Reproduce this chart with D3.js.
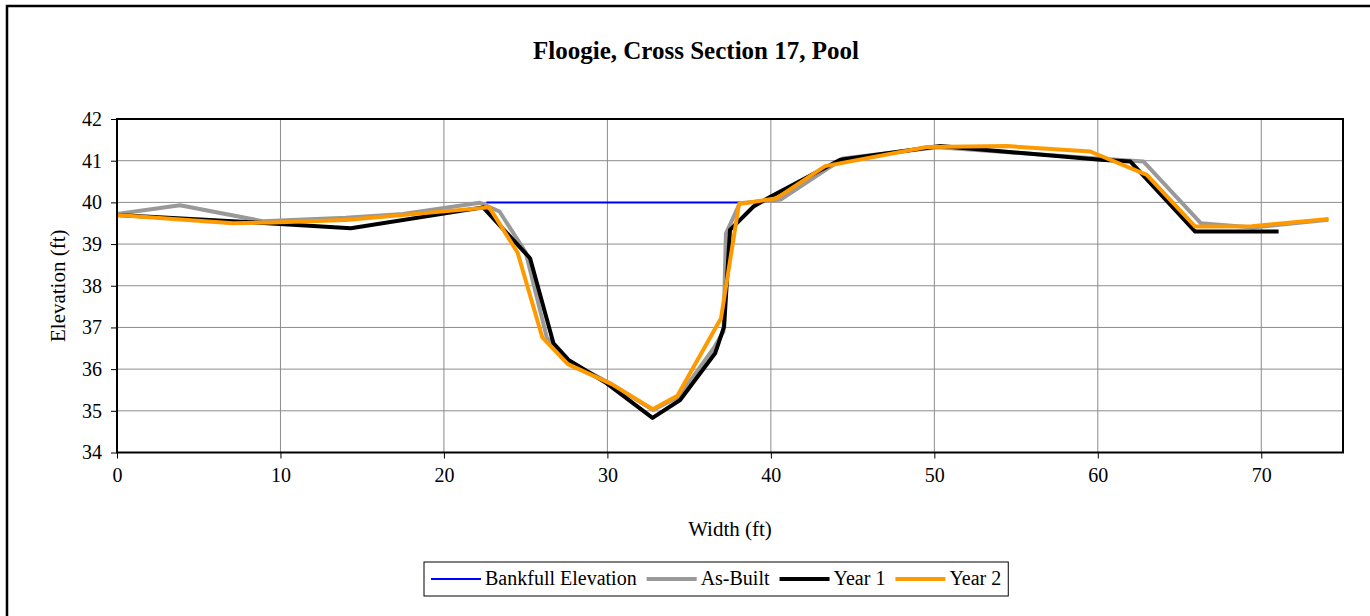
<!DOCTYPE html>
<html>
<head>
<meta charset="utf-8">
<script src="https://cdn.jsdelivr.net/npm/d3@7"></script>
<style>
html,body{margin:0;padding:0;background:#fff;}
svg{display:block;}
text{font-family:"Liberation Serif","Times New Roman",serif;fill:#000;}
</style>
</head>
<body>
<svg id="chart" width="1370" height="616"></svg>
<script>
// ---- data ----
const xTicks = [0, 10, 20, 30, 40, 50, 60, 70];
const yTicks = [34, 35, 36, 37, 38, 39, 40, 41, 42];
const seriesNames = ["Bankfull Elevation", "As-Built", "Year 1", "Year 2"];

const bankfullX = [22.6, 38.1];
const bankfullY = [40, 40];

const asBuiltX = [0, 3.85, 8.9, 14, 17.5, 22.2, 23.4, 25.0, 26.3, 27.6, 30.2, 32.8, 34.4, 36.5, 37.1, 37.25, 38.1, 40.6, 44.4, 50.2, 60, 62.8, 66.3, 69.5, 74.1];
const asBuiltY = [39.72, 39.93, 39.55, 39.63, 39.72, 39.99, 39.78, 38.8, 36.75, 36.2, 35.65, 35.02, 35.35, 36.5, 36.9, 39.25, 39.98, 40.07, 41.05, 41.32, 41.05, 40.98, 39.5, 39.4, 39.58];

const year1X = [0, 9.2, 14.3, 22.4, 25.27, 26.7, 27.62, 29.96, 32.76, 34.45, 36.59, 37.14, 37.5, 38.94, 40, 44.24, 50.36, 60.15, 62, 65.96, 71.06];
const year1Y = [39.70, 39.50, 39.38, 39.88, 38.66, 36.62, 36.22, 35.66, 34.83, 35.26, 36.38, 37.02, 39.34, 39.9, 40.14, 41.02, 41.35, 41.02, 40.98, 39.3, 39.3];

const year2X = [0, 7.1, 9.5, 14, 22.78, 24.51, 26.02, 27.58, 30.26, 32.77, 34.28, 36.95, 38.05, 40.36, 43.32, 49.54, 54.44, 59.54, 63.0, 65.96, 69.43, 74.12];
const year2Y = [39.70, 39.50, 39.52, 39.58, 39.88, 38.79, 36.76, 36.12, 35.64, 35.04, 35.36, 37.22, 39.96, 40.10, 40.87, 41.33, 41.35, 41.22, 40.66, 39.42, 39.43, 39.60];

// ---- layout ----
const svg = d3.select("#chart");
const L = 117, R = 1343, T = 119, B = 452.5;

const x = d3.scaleLinear().domain([0, 75]).range([L, R]);
const y = d3.scaleLinear().domain([34, 42]).range([B, T]);

// outer frame
svg.append("rect").attr("x", 7).attr("y", 6).attr("width", 1400).attr("height", 700)
  .attr("fill", "none").attr("stroke", "#000").attr("stroke-width", 2.5);

// title
svg.append("text").attr("x", 696).attr("y", 59).attr("text-anchor", "middle")
  .style("font-size", "25px").style("font-weight", "bold")
  .text("Floogie, Cross Section 17, Pool");

// gridlines
const grid = svg.append("g");
grid.selectAll("line.h").data(yTicks).join("line")
  .attr("x1", L).attr("x2", R).attr("y1", d => y(d)).attr("y2", d => y(d))
  .attr("stroke", "#8c8c8c").attr("stroke-width", 1);
grid.selectAll("line.v").data(xTicks).join("line")
  .attr("y1", T).attr("y2", B).attr("x1", d => x(d)).attr("x2", d => x(d))
  .attr("stroke", "#8c8c8c").attr("stroke-width", 1);

// axes
const xAxis = d3.axisBottom(x).tickValues(xTicks).tickSize(6).tickPadding(9).tickFormat(d3.format("d"));
const yAxis = d3.axisLeft(y).tickValues(yTicks).tickSize(6).tickPadding(9).tickFormat(d3.format("d"));
const gx = svg.append("g").attr("transform", `translate(0,${B})`).call(xAxis);
const gy = svg.append("g").attr("transform", `translate(${L},0)`).call(yAxis);
[gx, gy].forEach(g => {
  g.select(".domain").remove();
  g.selectAll(".tick line").attr("stroke", "#000").attr("stroke-width", 1);
  g.selectAll(".tick text").style("font-size", "20px").style("font-family", "'Liberation Serif', serif").attr("fill", "#000");
});

// axis titles
svg.append("text").attr("x", (L + R) / 2).attr("y", 536).attr("text-anchor", "middle")
  .style("font-size", "21px").text("Width (ft)");
svg.append("text").attr("transform", `translate(65,${(T + B) / 2}) rotate(-90)`)
  .attr("text-anchor", "middle").style("font-size", "21px").text("Elevation (ft)");

// series
const line = d3.line().x(d => x(d[0])).y(d => y(d[1]));
const series = [
  { xs: bankfullX, ys: bankfullY, color: "#0000ff", w: 2 },
  { xs: asBuiltX, ys: asBuiltY, color: "#999999", w: 4 },
  { xs: year1X, ys: year1Y, color: "#000000", w: 4 },
  { xs: year2X, ys: year2Y, color: "#ff9900", w: 4 }
];
series.forEach(s => {
  const pts = s.xs.map((v, i) => [v, s.ys[i]]);
  svg.append("path").datum(pts).attr("d", line)
    .attr("fill", "none").attr("stroke", s.color).attr("stroke-width", s.w)
    .attr("stroke-linejoin", "round");
});

// plot border
svg.append("rect").attr("x", L).attr("y", T).attr("width", R - L).attr("height", B - T)
  .attr("fill", "none").attr("stroke", "#000").attr("stroke-width", 2);

// legend
const lg = svg.append("g");
const box = lg.append("rect").attr("fill", "#fff").attr("stroke", "#000").attr("stroke-width", 1);
let cx = 431;
const ly = 579;
series.forEach((s, i) => {
  lg.append("line").attr("x1", cx).attr("x2", cx + 50).attr("y1", ly).attr("y2", ly)
    .attr("stroke", s.color).attr("stroke-width", s.w);
  const t = lg.append("text").attr("x", cx + 54).attr("y", ly + 6).style("font-size", "20px").text(seriesNames[i]);
  cx += 54 + t.node().getComputedTextLength() + 10;
});
box.attr("x", 424).attr("y", 562).attr("width", cx - 424 - 3).attr("height", 34);
</script>
</body>
</html>
